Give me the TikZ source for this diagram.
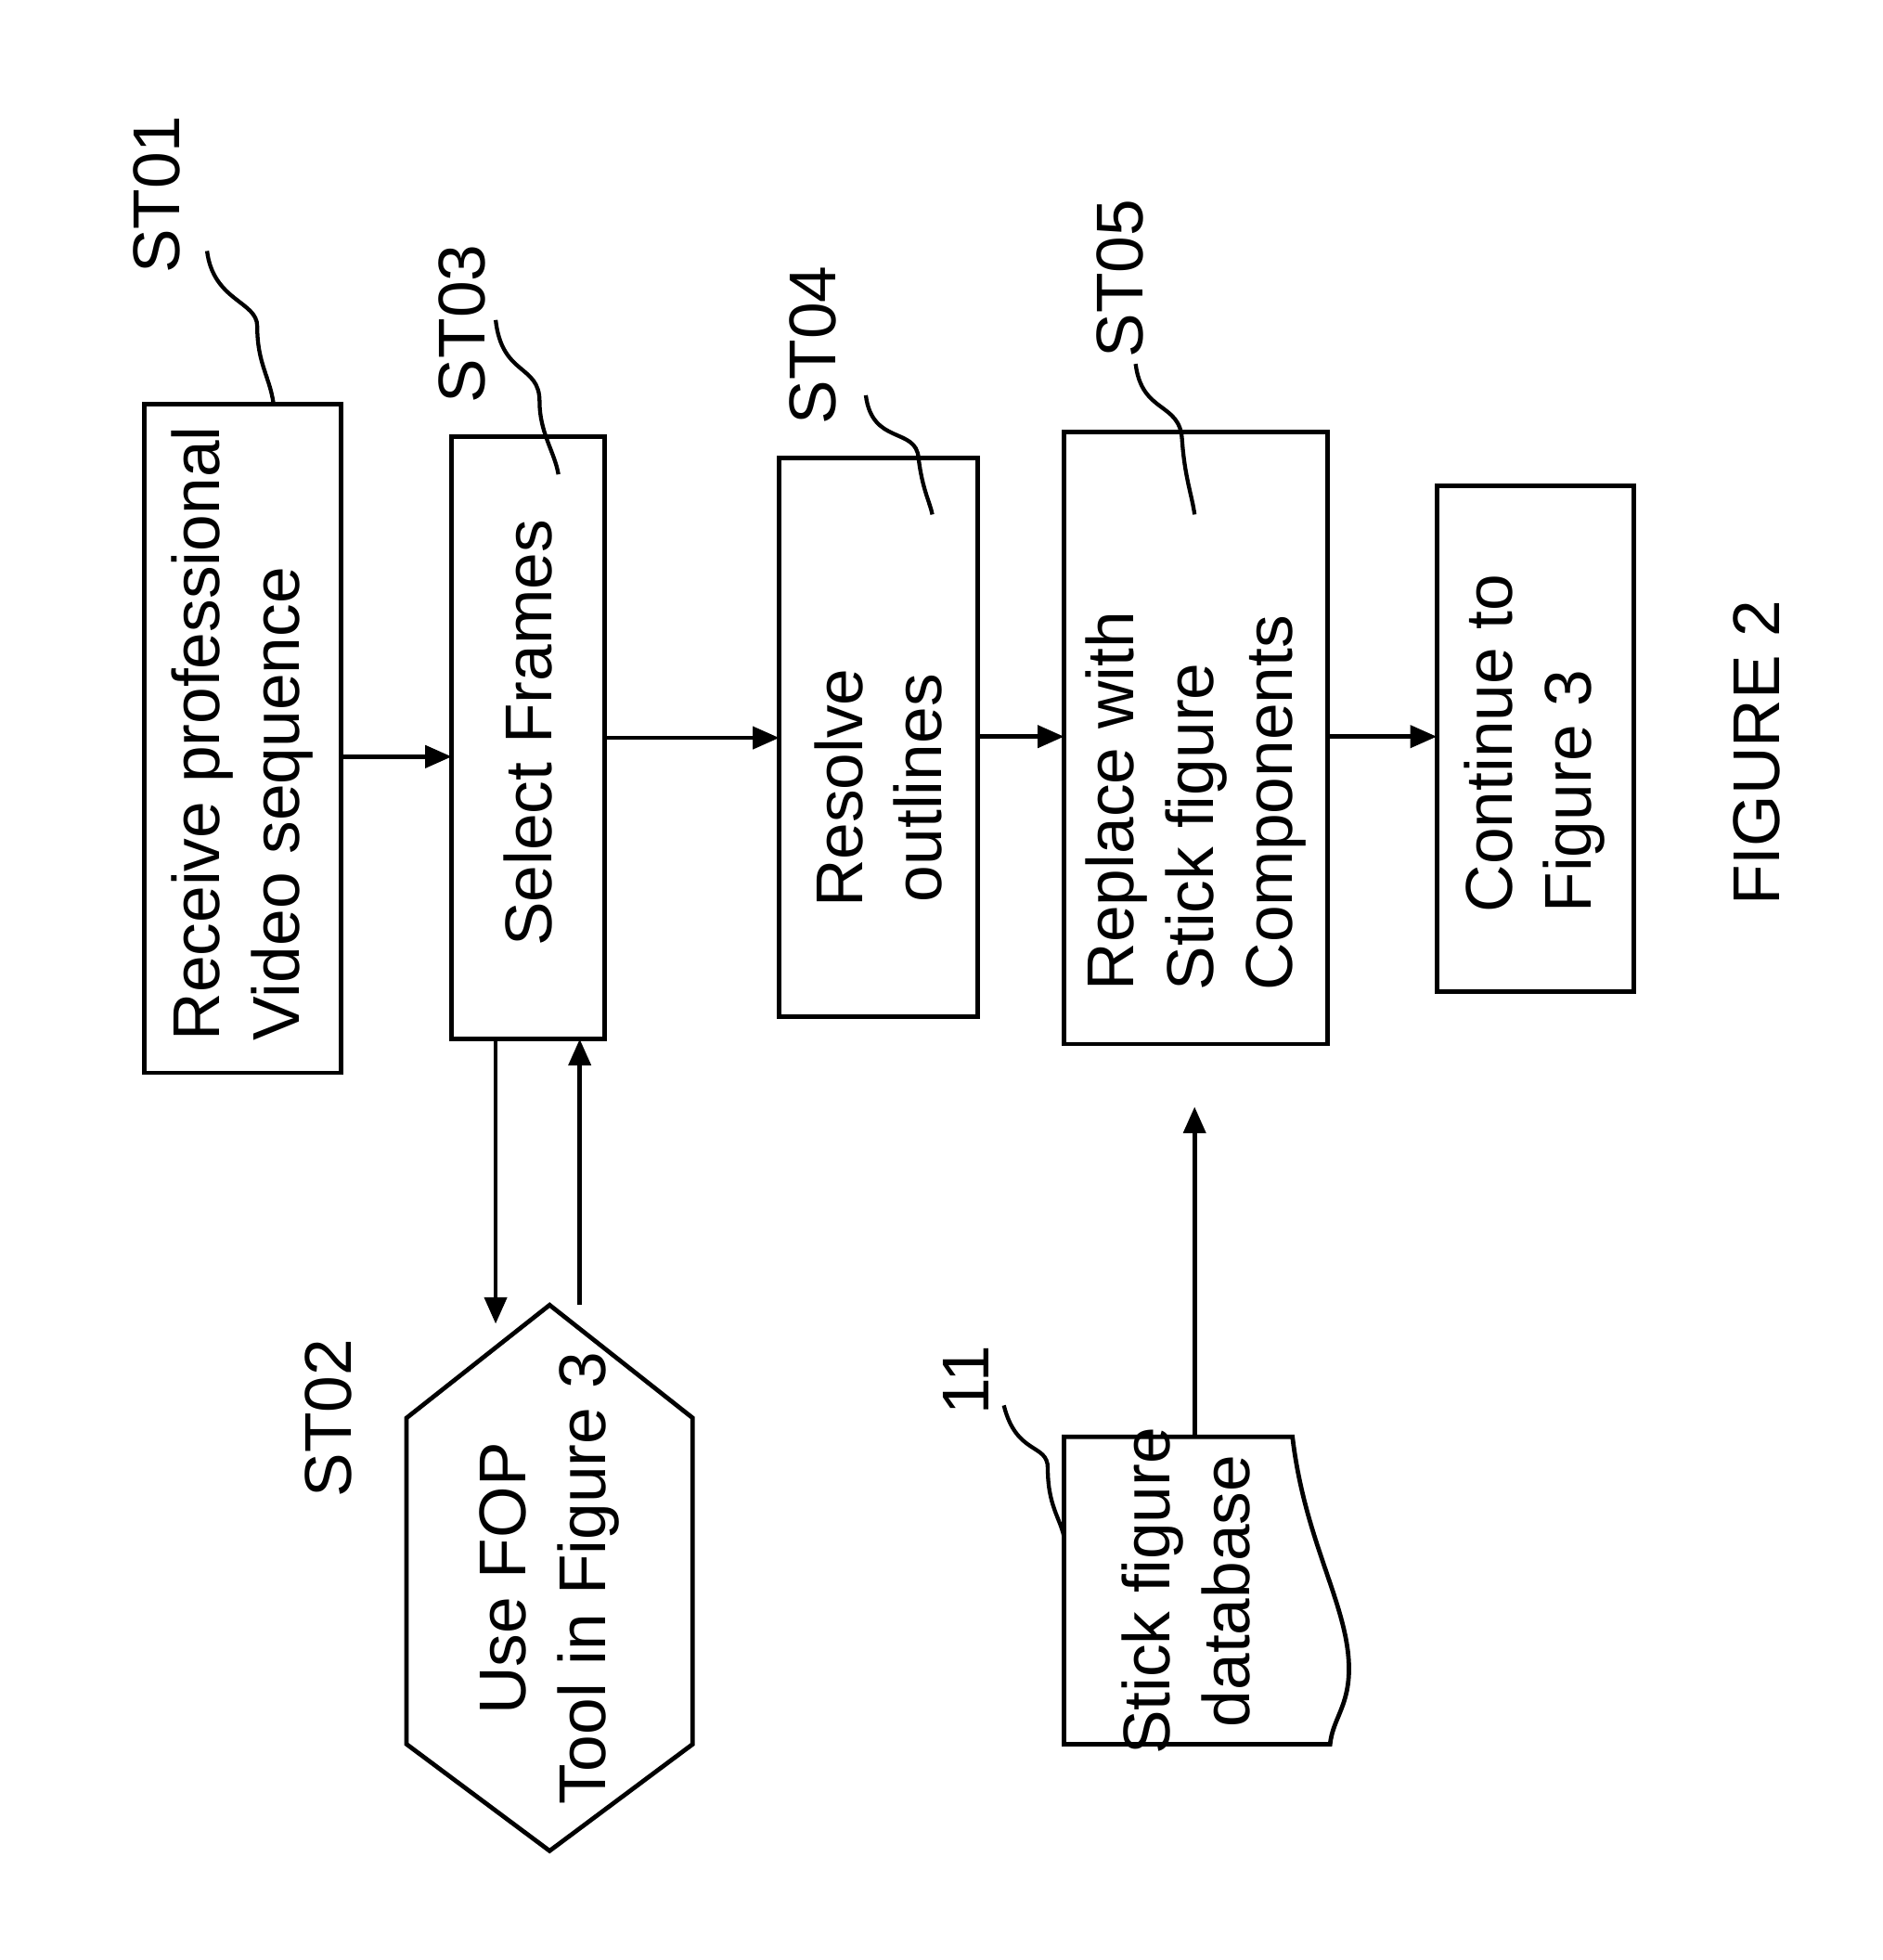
\documentclass[tikz,border=0pt]{standalone}
\usepackage{fontspec}
\setmainfont{Liberation Sans}
\usetikzlibrary{arrows.meta}
\begin{document}
\begin{tikzpicture}[x=0.01cm,y=-0.01cm,
  box/.style={draw,line width=1pt},
  txt/.style={rotate=90,align=center,inner sep=0pt,font=\fontsize{15pt}{18pt}\selectfont},
  ltxt/.style={txt,align=left,anchor=west},
  lab/.style={rotate=90,font=\fontsize{15pt}{18pt}\selectfont},
  arr/.style={-{Triangle[length=6pt,width=5pt]},line width=1pt},
  sq/.style={line width=0.9pt}]
\useasboundingbox (0,0) rectangle (1500,1562);
\draw[box] (115,322) rectangle (272,855);
\node[ltxt] (st01) at (193,830) {Receive professional\\Video sequence};
\draw[box] (360,348) rectangle (482,828);
\node[ltxt] (st03) at (421,755) {Select Frames};
\draw[box] (621,365) rectangle (779,810);
\node[txt] (st04) at (700,628) {Resolve\\outlines};
\draw[box] (848,344) rectangle (1058,832);
\node[ltxt] (st05) at (953,790) {Replace with\\Stick figure\\Components};
\draw[box] (1145,387) rectangle (1302,790);
\node[ltxt] (cont) at (1223,728) {Continue to\\Figure 3};
\node[lab] (fig) at (1400,600) {FIGURE 2};
\draw[box] (438,1040) -- (552,1130) -- (552,1390) -- (438,1475) -- (324,1390) -- (324,1130) -- cycle;
\node[txt] (st02) at (438,1258) {Use FOP\\Tool in Figure 3};
\node[lab] at (262,1130) {ST02};
\draw[box] (848,1145) -- (1030,1145) .. controls (1040,1230) and (1075,1280) .. (1075,1330) .. controls (1075,1360) and (1062,1370) .. (1060,1390) -- (848,1390) -- cycle;
\node[txt] (db) at (945,1268) {Stick figure\\database};
\node[lab] at (770,1100) {11};
\draw[sq] (800,1120) .. controls (810,1160) and (835,1150) .. (835,1170) .. controls (835,1200) and (845,1210) .. (848,1225);
\node[lab] at (125,155) {ST01};
\draw[sq] (165,200) .. controls (170,240) and (205,240) .. (205,260) .. controls (205,290) and (215,300) .. (218,322);
\node[lab] at (368,258) {ST03};
\draw[sq] (395,255) .. controls (400,300) and (430,290) .. (430,320) .. controls (430,345) and (442,360) .. (445,378);
\node[lab] at (648,275) {ST04};
\draw[sq] (690,315) .. controls (695,355) and (730,340) .. (732,365) .. controls (735,390) and (741,400) .. (743,410);
\node[lab] at (893,222) {ST05};
\draw[sq] (905,290) .. controls (910,330) and (940,320) .. (942,350) .. controls (944,380) and (950,395) .. (952,410);
\draw[arr] (272,603) -- (360,603);
\draw[arr] (482,588) -- (621,588);
\draw[arr] (779,587) -- (848,587);
\draw[arr] (1058,587) -- (1145,587);
\draw[arr] (395,828) -- (395,1055);
\draw[arr] (462,1040) -- (462,828);
\draw[arr] (952,1145) -- (952,882);
\end{tikzpicture}
\end{document}
